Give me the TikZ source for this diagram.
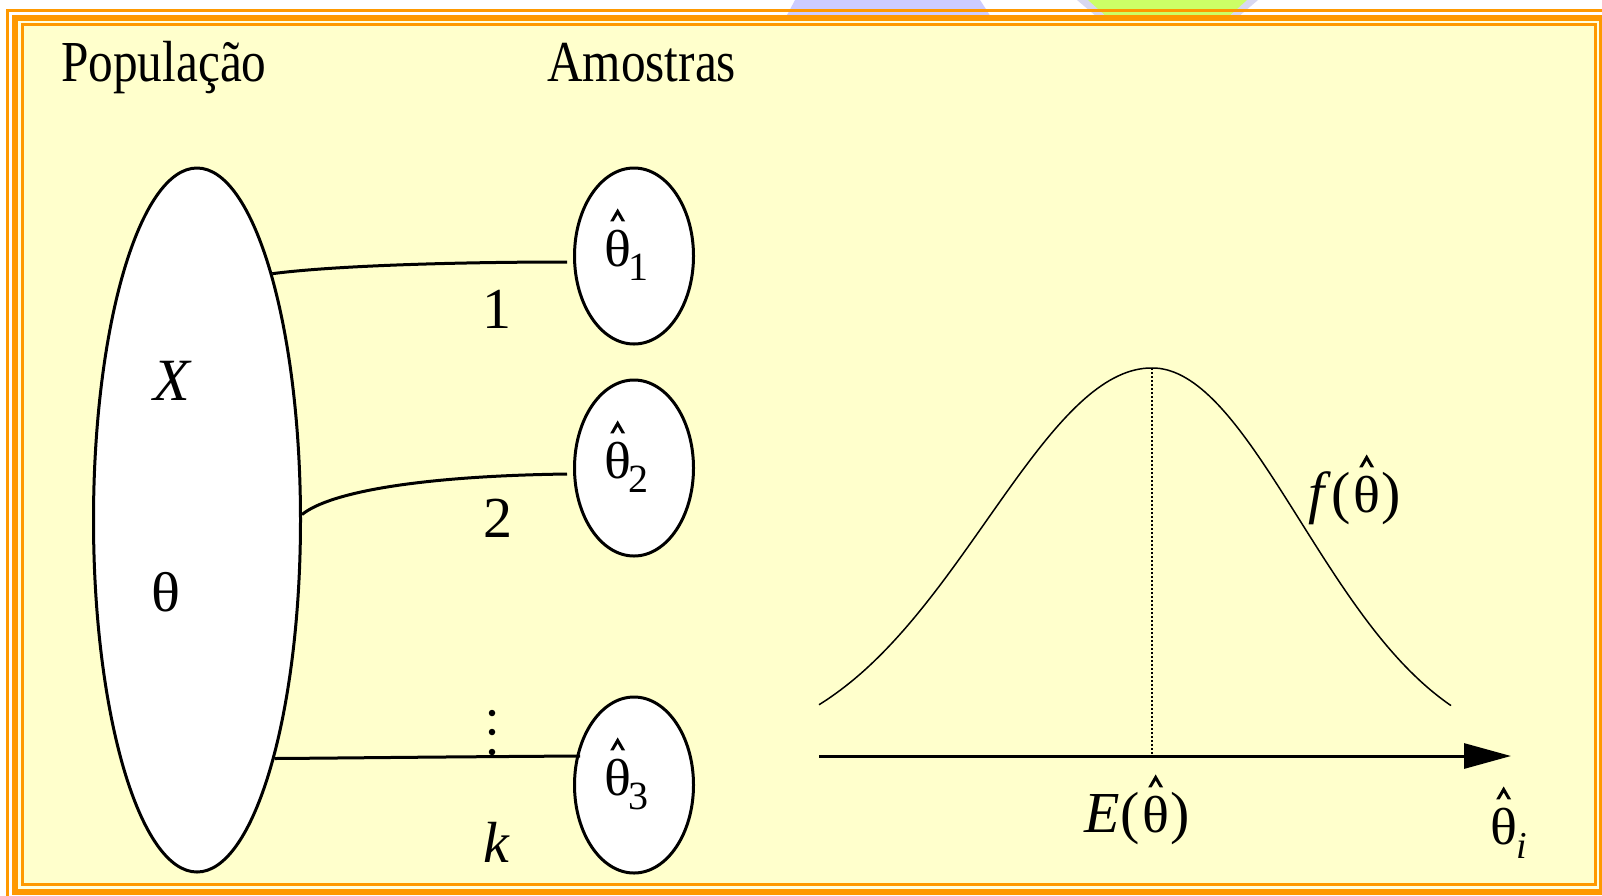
\documentclass[tikz,border=0pt]{standalone}
\usepackage{fontspec}
\setmainfont{Liberation Serif}
\usetikzlibrary{shapes.geometric,arrows.meta}
\definecolor{frameor}{HTML}{FF9900}
\definecolor{bgyel}{HTML}{FFFFCC}
\definecolor{gapyel}{HTML}{FFFFE0}
\definecolor{lav}{HTML}{CCCCFF}
\definecolor{lavlt}{HTML}{D8D8F0}
\definecolor{lime}{HTML}{CCFF66}
\newcommand\sq[1]{\scalebox{0.85}[1]{#1}}
\newcommand\thw[1]{\scalebox{1.08}[1]{#1}}
\newcommand\hatover[1]{\fill ([yshift=8pt]#1.north) ++(-7.5,0) -- ++(7.5,-13) -- ++(7.5,13) -- ++(-3.4,0) -- ++(-4.1,-7) -- ++(-4.1,7) -- cycle;}
\tikzset{
  popell/.style={draw, line width=3pt, fill=white, ellipse, inner sep=0pt,
    minimum width=207pt, minimum height=704pt},
  sampell/.style={draw, line width=3pt, fill=white, ellipse, inner sep=0pt,
    minimum width=119pt, minimum height=176pt},
  link/.style={line width=3pt},
  lbl/.style={inner sep=0pt, font=\fontsize{58}{60}\selectfont},
  thn/.style={inner sep=0pt, anchor=base west, font=\fontsize{52}{52}\selectfont},
  subn/.style={inner sep=0pt, anchor=base west, yshift=-14pt, xshift=-3pt, font=\fontsize{40}{40}\selectfont},
  dotn/.style={circle, fill=black, inner sep=0pt, minimum size=6.5pt},
  curve/.style={line width=1.5pt},
  dotline/.style={line width=1.5pt, dash pattern=on 1.5pt off 2.5pt},
  axisline/.style={line width=3pt, -{Triangle[length=47pt,width=25pt]}}
}
\begin{document}
\begin{tikzpicture}[x=1pt,y=-1pt]
\useasboundingbox (0,0) rectangle (1602,895);
\fill[white] (0,0) rectangle (1602,895);
% background slide decorations
\fill[lav] (795,0) -- (980,0) -- (991,17) -- (786,17) -- cycle;
\fill[lavlt] (1077,0) -- (1258,0) -- (1238,17) -- (1097,17) -- cycle;
\fill[lime] (1088,0) -- (1247,0) -- (1228,17) -- (1107,17) -- cycle;
% frame
\draw[frameor, line width=3pt] (7.5,10.5) rectangle (1615,905);
\draw[frameor, line width=6pt, fill=gapyel] (15,18) rectangle (1602,892);
\draw[frameor, line width=3pt, fill=bgyel] (22.5,24.5) rectangle (1595.5,884.5);
% titles
\node[lbl, anchor=base west] (tpop) at (61,81) {\sq{População}};
\node[lbl, anchor=base west] (tam) at (547,81) {\sq{Amostras}};
% population
\node[popell] (pop) at (197,520) {};
\node[lbl, anchor=base, font=\fontsize{60}{60}\selectfont\itshape] (xlab) at (172,400) {X};
\node[thn, anchor=base, font=\fontsize{56}{56}\selectfont] (thlab) at (166,611) {\thw{θ}};
% samples
\node[sampell] (s1) at (634,256) {};
\node[sampell] (s2) at (634,468) {};
\node[sampell] (s3) at (634,785) {};
\node[thn] (t1) at (604,266) {\thw{θ}};
\node[subn] (u1) at (t1.base east) {1};
\node[thn] (t2) at (604,478) {\thw{θ}};
\node[subn] (u2) at (t2.base east) {2};
\node[thn] (t3) at (604,795) {\thw{θ}};
\node[subn] (u3) at (t3.base east) {3};
\hatover{t1}
\hatover{t2}
\hatover{t3}
% connectors
\coordinate (c1) at (567,262);
\coordinate (c2) at (567,474);
\coordinate (c3) at (580,756);
\draw[link] (pop.73.2) .. controls (330,266) and (450,262) .. (c1);
\draw[link] (pop.3.8) .. controls (330,492) and (420,476) .. (c2);
\draw[link] (pop.-72.7) .. controls (350,758) and (420,757) .. (c3);
\node[lbl, anchor=base] (n1) at (497,328) {1};
\node[lbl, anchor=base] (n2) at (498,537) {2};
\node[lbl, anchor=base, font=\fontsize{58}{60}\selectfont\itshape] (nk) at (496,862) {k};
\node[dotn] (d1) at (492,713) {};
\node[dotn] (d2) at (492,732) {};
\node[dotn] (d3) at (492,752) {};
% distribution
\coordinate (ax0) at (819,756);
\coordinate (ax1) at (1511,756);
\coordinate (pk) at (1152,368);
\coordinate (mu) at (1152,756);
\draw[curve] plot[domain=819:1152, samples=80] (\x, {756-388*exp(-0.5*((\x-1152)/165.5)^2)});
\draw[curve] plot[domain=1152:1451, samples=80] (\x, {756-388*exp(-0.5*((\x-1152)/148)^2)});
\draw[dotline] (pk) -- (mu);
\draw[axisline] (ax0) -- (ax1);
% f(theta hat)
\node[thn] (fth) at (1353,512) {\thw{θ}};
\node[lbl, anchor=base east] (fl) at ([xshift=-2.5pt]fth.base west) {\textit{f}(};
\node[lbl, anchor=base west] (fr) at ([xshift=1pt]fth.base east) {)};
\hatover{fth}
% E(theta hat)
\node[thn] (eth) at (1142,832) {\thw{θ}};
\node[lbl, anchor=base east] (el) at ([xshift=-2.5pt]eth.base west) {\textit{E}(};
\node[lbl, anchor=base west] (er) at ([xshift=1pt]eth.base east) {)};
\hatover{eth}
% theta hat i
\node[thn] (ith) at (1490,844) {\thw{θ}};
\node[subn, xshift=2pt, font=\fontsize{38}{38}\selectfont\itshape] (isub) at (ith.base east) {i};
\hatover{ith}
\end{tikzpicture}
\end{document}
